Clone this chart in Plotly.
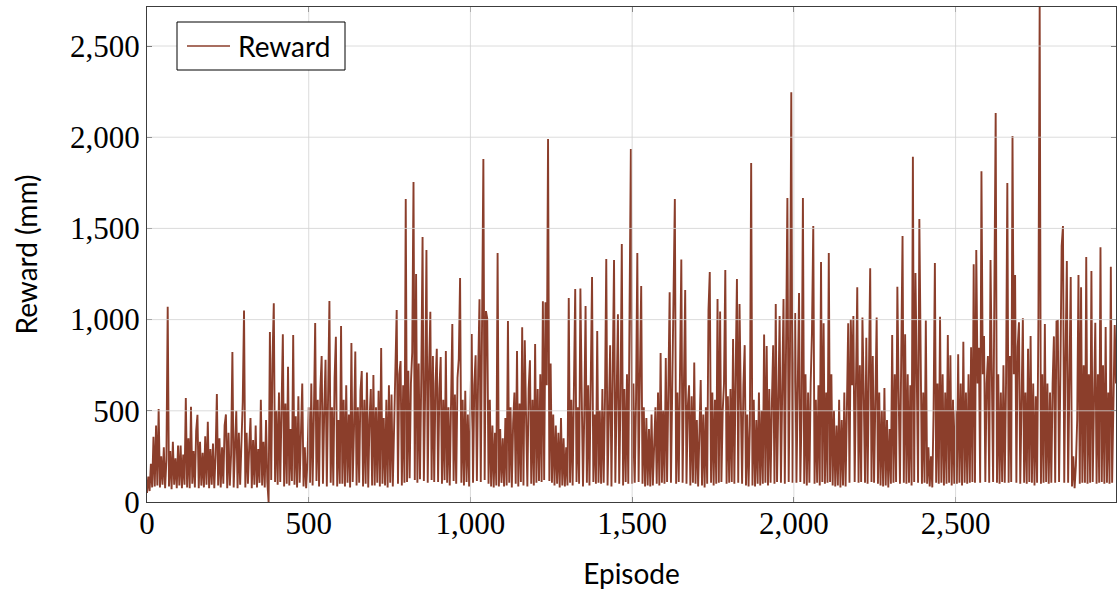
import plotly.graph_objects as go

# Reward per training episode (mm), one sample every EPISODE_STEP episodes.
EPISODE_STEP = 4
reward = [
    # 0 - 96
    50, 140, 60, 210, 80, 357, 85, 420, 90, 510, 80, 250, 95, 300, 75, 230, 1070, 85, 280, 70, 330, 95, 240, 75, 310,
    # 100 - 196
    90, 310, 75, 260, 95, 570, 80, 350, 75, 522, 100, 280, 80, 390, 478, 75, 330, 90, 270, 80, 360, 95, 440, 75, 290,
    # 200 - 296
    95, 320, 75, 260, 592, 90, 350, 80, 300, 100, 420, 480, 75, 380, 90, 260, 823, 80, 300, 500, 75, 380, 95, 330, 548,
    # 300 - 396
    1050, 80, 380, 100, 300, 460, 75, 340, 95, 420, 80, 290, 105, 560, 90, 330, 80, 450, 110, 0, 932, 120, 778, 1090, 110,
    # 400 - 496
    500, 95, 600, 110, 450, 920, 85, 540, 100, 742, 90, 400, 115, 915, 95, 470, 80, 580, 105, 430, 650, 85, 300, 75, 220,
    # 500 - 596
    520, 105, 650, 90, 480, 981, 115, 560, 85, 620, 800, 100, 500, 780, 85, 600, 1102, 105, 520, 90, 680, 906, 85, 450, 100,
    # 600 - 696
    965, 100, 560, 85, 640, 105, 480, 80, 872, 110, 400, 825, 90, 520, 105, 610, 718, 85, 560, 100, 710, 80, 450, 620, 90,
    # 700 - 796
    696, 90, 520, 105, 610, 85, 844, 100, 460, 90, 560, 80, 640, 105, 590, 85, 380, 620, 1053, 100, 700, 773, 90, 640, 105,
    # 800 - 896
    1661, 110, 720, 130, 650, 820, 1755, 120, 1250, 105, 760, 125, 680, 1453, 115, 600, 1382, 105, 720, 1043, 120, 800, 110, 650, 840,
    # 900 - 996
    110, 620, 795, 100, 560, 120, 828, 105, 520, 90, 640, 976, 115, 590, 100, 680, 785, 1228, 105, 560, 90, 610, 110, 480, 85,
    # 1000 - 1096
    520, 921, 105, 640, 805, 115, 720, 1112, 110, 800, 1880, 120, 1047, 1005, 100, 560, 85, 420, 80, 380, 90, 1365, 85, 400, 105,
    # 1100 - 1196
    350, 85, 460, 90, 992, 105, 520, 80, 430, 600, 100, 828, 85, 540, 110, 958, 90, 887, 470, 85, 620, 777, 100, 560, 90,
    # 1200 - 1296
    866, 105, 620, 115, 700, 110, 1101, 120, 1095, 640, 1990, 115, 760, 105, 480, 90, 420, 100, 380, 80, 460, 90, 350, 85, 300,
    # 1300 - 1396
    90, 1118, 105, 560, 90, 650, 1168, 110, 520, 100, 1170, 600, 85, 480, 1075, 105, 640, 90, 560, 1233, 110, 480, 100, 937, 105,
    # 1400 - 1496
    500, 100, 620, 105, 560, 1332, 90, 480, 860, 85, 600, 1327, 105, 700, 1030, 100, 560, 1414, 90, 620, 110, 700, 100, 1058, 1935,
    # 1500 - 1596
    100, 650, 105, 560, 1365, 110, 700, 1184, 100, 520, 85, 460, 90, 400, 85, 480, 90, 360, 520, 100, 600, 90, 817, 105, 500,
    # 1600 - 1696
    100, 790, 110, 640, 1150, 105, 700, 1050, 1661, 100, 600, 110, 650, 1330, 105, 560, 1162, 100, 520, 640, 90, 580, 105, 765, 100,
    # 1700 - 1796
    450, 85, 380, 669, 90, 480, 80, 520, 100, 1053, 1261, 105, 600, 90, 560, 100, 1113, 105, 1045, 110, 500, 650, 1272, 100, 580,
    # 1800 - 1896
    105, 620, 110, 893, 100, 700, 1222, 105, 1085, 550, 100, 640, 860, 90, 480, 85, 420, 1858, 90, 560, 85, 450, 100, 600, 90,
    # 1900 - 1996
    500, 100, 918, 105, 855, 90, 620, 105, 540, 860, 100, 1085, 110, 700, 1020, 105, 600, 1113, 100, 750, 1667, 110, 820, 2247, 105,
    # 2000 - 2096
    700, 1036, 105, 650, 1146, 110, 500, 1667, 100, 700, 90, 600, 105, 650, 932, 1513, 100, 560, 105, 640, 90, 1316, 110, 980, 100,
    # 2100 - 2196
    600, 105, 1365, 110, 700, 90, 500, 85, 420, 90, 560, 80, 450, 90, 600, 85, 520, 980, 105, 1000, 640, 1020, 110, 800, 1178,
    # 2200 - 2296
    105, 750, 110, 1011, 600, 105, 900, 100, 700, 1282, 110, 800, 105, 650, 1011, 100, 600, 90, 500, 85, 625, 90, 450, 80, 400,
    # 2300 - 2396
    100, 915, 105, 700, 110, 1180, 600, 100, 800, 1459, 105, 920, 100, 700, 105, 640, 90, 1893, 110, 1255, 700, 105, 1551, 600, 100,
    # 2400 - 2496
    600, 105, 995, 100, 300, 85, 250, 80, 500, 1311, 105, 650, 100, 1016, 105, 700, 90, 600, 100, 915, 105, 805, 90, 560, 100,
    # 2500 - 2596
    500, 100, 810, 105, 650, 90, 878, 105, 600, 100, 700, 105, 848, 110, 1304, 105, 1381, 650, 845, 105, 1814, 700, 910, 110, 650,
    # 2600 - 2696
    800, 105, 1327, 600, 110, 1178, 2133, 105, 700, 100, 600, 110, 750, 105, 650, 1749, 105, 800, 110, 2007, 700, 1245, 105, 850, 985,
    # 2700 - 2796
    100, 700, 1008, 105, 600, 100, 840, 110, 910, 105, 650, 90, 580, 105, 976, 2714, 100, 700, 105, 976, 110, 650, 100, 600, 105,
    # 2800 - 2896
    650, 908, 105, 990, 993, 110, 700, 1404, 1513, 105, 800, 1321, 105, 700, 1234, 85, 250, 75, 200, 450, 1245, 100, 1178, 105, 750,
    # 2900 - 2996
    105, 1343, 100, 700, 105, 1266, 110, 650, 983, 100, 700, 105, 1397, 110, 750, 100, 960, 105, 600, 100, 1290, 105, 600, 970, 650,
]
episodes = [i * EPISODE_STEP for i in range(len(reward))]

x_ticks = [0, 500, 1000, 1500, 2000, 2500]
y_ticks = [0, 500, 1000, 1500, 2000, 2500]

LINE_COLOR = "#8b3e2b"
AXIS_COLOR = "#3c3c3c"
GRID_COLOR = "#d4d4d4"
TICK_FONT = dict(family="Liberation Serif", size=31, color="black")
LABEL_FONT = dict(family="Lato", size=28, color="black")

x_max = max(episodes)
y_max = max(reward)

# plot area in pixels (used to place the legend box in paper coordinates)
PLOT_L, PLOT_R, PLOT_T, PLOT_B = 147, 1116, 7, 502


def px_x(px):
    return (px - PLOT_L) / (PLOT_R - PLOT_L)


def px_y(py):
    return (PLOT_B - py) / (PLOT_B - PLOT_T)


fig = go.Figure()
fig.add_trace(go.Scatter(
    x=episodes, y=reward, mode="lines", name="Reward",
    line=dict(color=LINE_COLOR, width=1.9),
    showlegend=False,
))

# Grid drawn over the data, as in the pgfplots style
shapes = []
for xv in x_ticks[1:]:
    shapes.append(dict(type="line", xref="x", yref="paper", x0=xv, x1=xv, y0=0, y1=1,
                       line=dict(color=GRID_COLOR, width=1), opacity=0.8, layer="above"))
for yv in y_ticks[1:]:
    shapes.append(dict(type="line", xref="paper", yref="y", x0=0, x1=1, y0=yv, y1=yv,
                       line=dict(color=GRID_COLOR, width=1), opacity=0.8, layer="above"))

# Legend box with a line sample and the series name
shapes.append(dict(type="rect", xref="paper", yref="paper",
                   x0=px_x(177), x1=px_x(345), y0=px_y(70), y1=px_y(22),
                   fillcolor="white", line=dict(color="black", width=1), layer="above"))
shapes.append(dict(type="line", xref="paper", yref="paper",
                   x0=px_x(187), x1=px_x(230), y0=px_y(46), y1=px_y(46),
                   line=dict(color=LINE_COLOR, width=1.4), layer="above"))
annotations = [dict(text="Reward", xref="paper", yref="paper", x=px_x(236), y=px_y(46),
                    xanchor="left", yanchor="middle", showarrow=False, font=LABEL_FONT)]

axis_common = dict(
    showgrid=False, zeroline=False, showline=True, linecolor=AXIS_COLOR, linewidth=1,
    mirror="ticks", ticks="inside", ticklen=5, tickwidth=1, tickcolor=AXIS_COLOR,
    tickfont=TICK_FONT, tickformat=",", layer="above traces",
)

fig.update_layout(
    width=1117, height=594,
    margin=dict(l=PLOT_L, r=1117 - PLOT_R, t=PLOT_T, b=594 - PLOT_B),
    paper_bgcolor="white", plot_bgcolor="white",
    shapes=shapes,
    annotations=annotations,
    showlegend=False,
    xaxis=dict(
        range=[0, x_max], tickvals=x_ticks, ticklabelstandoff=-6,
        title=dict(text="Episode", font=LABEL_FONT, standoff=24),
        **axis_common,
    ),
    yaxis=dict(
        range=[0, y_max], tickvals=y_ticks,
        title=dict(text="Reward (mm)", font=LABEL_FONT, standoff=24),
        **axis_common,
    ),
)

fig.write_html("out.html")
